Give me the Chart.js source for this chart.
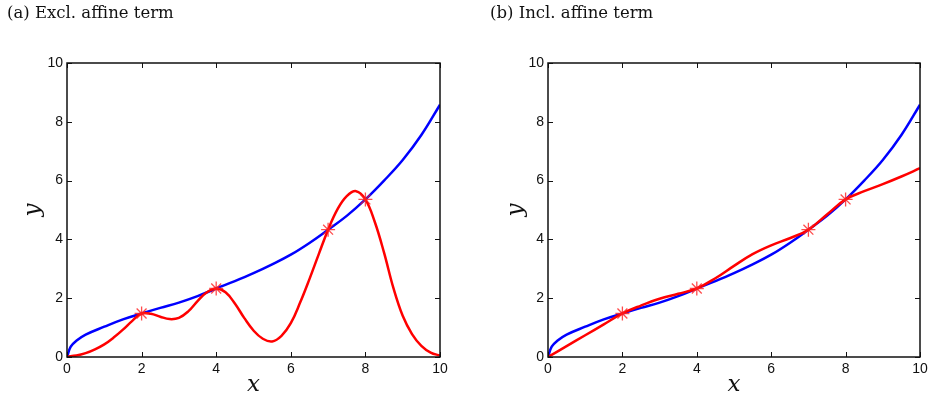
<!DOCTYPE html>
<html>
<head>
<meta charset="utf-8">
<script src="https://cdn.jsdelivr.net/npm/chart.js@4/dist/chart.umd.min.js"></script>
<style>
  html, body { margin: 0; padding: 0; background: #fff; }
  body { width: 936px; height: 400px; position: relative; overflow: hidden; }
  canvas { position: absolute; top: 0; }
  #left { left: 0; }
  #right { left: 483px; }
</style>
</head>
<body>
<canvas id="left" width="468" height="400"></canvas>
<canvas id="right" width="453" height="400"></canvas>
<script>
// Reference function y(x), sampled along x
const fnX = [0, 0.1, 0.25, 0.5, 1, 1.5, 2, 2.5, 3, 3.5, 4, 4.5, 5, 5.5, 6, 6.5, 7, 7.5, 8, 8.5, 9, 9.5, 10];
const fnY = [0, 0.35, 0.55, 0.76, 1.03, 1.28, 1.48, 1.67, 1.85, 2.07, 2.33, 2.58, 2.85, 3.15, 3.48, 3.88, 4.33, 4.8, 5.36, 6.0, 6.7, 7.55, 8.58];

// Observed samples (asterisks)
const sampleX = [2, 4, 7, 8];
const sampleY = [1.48, 2.33, 4.33, 5.36];

// Interpolant without the affine term
const exclX = [0, 0.25, 0.5, 0.75, 1, 1.25, 1.5, 1.75, 2, 2.25, 2.5, 2.75, 3, 3.25, 3.5, 3.75, 4, 4.25, 4.5, 4.75, 5,
               5.25, 5.5, 5.75, 6, 6.25, 6.5, 6.75, 7, 7.25, 7.5, 7.75, 8, 8.25, 8.5, 8.75, 9, 9.25, 9.5, 9.75, 10];
const exclY = [0.02, 0.05, 0.13, 0.26, 0.43, 0.66, 0.93, 1.23, 1.48, 1.47, 1.37, 1.29, 1.33, 1.55, 1.9, 2.2, 2.33, 2.2, 1.82, 1.33, 0.9,
               0.62, 0.53, 0.72, 1.15, 1.85, 2.65, 3.5, 4.33, 5.02, 5.47, 5.64, 5.36, 4.6, 3.55, 2.35, 1.4, 0.78, 0.38, 0.15, 0.05];

// Interpolant with the affine term
const inclX = [0, 0.5, 1, 1.5, 2, 2.5, 3, 3.5, 4, 4.5, 5, 5.5, 6, 6.5, 7, 7.5, 8, 8.5, 9, 9.5, 10];
const inclY = [0, 0.37, 0.74, 1.11, 1.48, 1.75, 1.98, 2.15, 2.33, 2.68, 3.1, 3.5, 3.8, 4.04, 4.33, 4.85, 5.36, 5.64, 5.88, 6.14, 6.42];

// Axis ticks
const tickValues = [0, 2, 4, 6, 8, 10];

const pts = (xs, ys) => xs.map((x, i) => ({ x: x, y: ys[i] }));

// Boxed axes with inward tick marks on all four sides
const boxTicks = {
  id: 'boxTicks',
  afterDatasetsDraw(chart) {
    const { ctx, chartArea: a, scales } = chart;
    const len = 5;
    ctx.save();
    ctx.strokeStyle = '#111';
    ctx.lineWidth = 1;
    ctx.beginPath();
    tickValues.forEach(v => {
      const px = Math.round(scales.x.getPixelForValue(v)) + 0.5;
      ctx.moveTo(px, a.bottom); ctx.lineTo(px, a.bottom - len);
      ctx.moveTo(px, a.top); ctx.lineTo(px, a.top + len);
      const py = Math.round(scales.y.getPixelForValue(v)) + 0.5;
      ctx.moveTo(a.left, py); ctx.lineTo(a.left + len, py);
      ctx.moveTo(a.right, py); ctx.lineTo(a.right - len, py);
    });
    ctx.stroke();
    ctx.lineWidth = 1.5;
    ctx.strokeRect(a.left, a.top, a.right - a.left, a.bottom - a.top);
    ctx.restore();
  }
};

function makeChart(id, title, redX, redY, padRight, yWidth) {
  return new Chart(document.getElementById(id), {
    type: 'scatter',
    data: {
      datasets: [
        {
          label: 'samples',
          data: pts(sampleX, sampleY),
          showLine: false,
          pointStyle: 'star',
          pointRadius: 7,
          pointBorderWidth: 1.3,
          pointBorderColor: 'rgba(255,30,30,0.8)',
          pointBackgroundColor: 'rgba(255,30,30,0.8)'
        },
        {
          label: 'interpolant',
          data: pts(redX, redY),
          showLine: true,
          borderColor: '#ff0000',
          borderWidth: 2.5,
          pointRadius: 0,
          tension: 0.4
        },
        {
          label: 'function',
          data: pts(fnX, fnY),
          showLine: true,
          borderColor: '#0000ff',
          borderWidth: 2.5,
          pointRadius: 0,
          tension: 0.4
        }
      ]
    },
    options: {
      responsive: false,
      animation: false,
      devicePixelRatio: 1,
      layout: { padding: { left: 7, right: padRight, top: 0, bottom: 0 } },
      plugins: {
        legend: { display: false },
        tooltip: { enabled: false },
        title: {
          display: true,
          text: title,
          align: 'start',
          color: '#111',
          font: { family: 'DejaVu Serif', size: 16.5, weight: 'normal', lineHeight: 1.2 },
          padding: { top: 4.1, bottom: 39.1 }
        }
      },
      scales: {
        x: {
          type: 'linear',
          min: 0, max: 10,
          afterBuildTicks: s => { s.ticks = tickValues.map(v => ({ value: v })); },
          afterFit: s => { s.height = 43; },
          grid: { display: false, drawTicks: false },
          border: { display: false },
          ticks: { color: '#111', padding: 4, font: { family: 'Liberation Sans', size: 14 } },
          title: {
            display: true, text: 'x', color: '#111',
            font: { family: 'DejaVu Serif', style: 'italic', size: 23, lineHeight: 1.2 },
            padding: { top: 0, bottom: 1.5 }
          }
        },
        y: {
          type: 'linear',
          min: 0, max: 10,
          afterBuildTicks: s => { s.ticks = tickValues.map(v => ({ value: v })); },
          afterFit: s => { s.width = yWidth; },
          grid: { display: false, drawTicks: false },
          border: { display: false },
          ticks: { color: '#111', padding: 4, font: { family: 'Liberation Sans', size: 14 } },
          title: {
            display: true, text: 'y', color: '#111',
            font: { family: 'DejaVu Serif', style: 'italic', size: 23, lineHeight: 1.2 },
            padding: { top: 12, bottom: 0 }
          }
        }
      }
    },
    plugins: [boxTicks]
  });
}

makeChart('left', '(a) Excl. affine term', exclX, exclY, 28, 60);
makeChart('right', '(b) Incl. affine term', inclX, inclY, 16, 58);
</script>
</body>
</html>
